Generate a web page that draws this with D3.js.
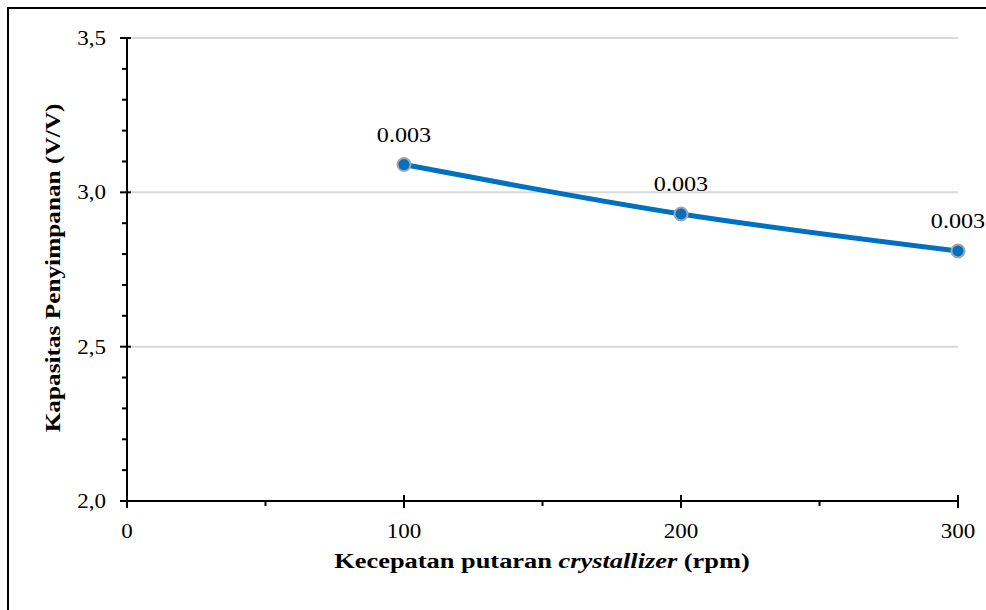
<!DOCTYPE html>
<html>
<head>
<meta charset="utf-8">
<script src="https://cdn.jsdelivr.net/npm/d3@7"></script>
<style>
  html, body { margin: 0; padding: 0; background: #fff; }
  svg { display: block; font-family: "Liberation Serif", "Times New Roman", serif; }
</style>
</head>
<body>
<svg id="chart" width="986" height="610"></svg>
<script>
// Rotation speed of the crystallizer (rpm) vs. storage capacity (V/V)
const speeds = [100, 200, 300];
const capacity = [3.09, 2.93, 2.81];
const pointLabels = ["0.003", "0.003", "0.003"];
const yTicks = [2.0, 2.5, 3.0, 3.5];
const xTicks = [0, 100, 200, 300];

const svg = d3.select("#chart");
const W = 986, H = 610;
const SX = 1.15; // horizontal stretch of the lettering

// outer frame (left and top edges visible)
svg.append("path")
  .attr("d", `M8,${H} L8,8 L${W},8`)
  .attr("fill", "none").attr("stroke", "#000").attr("stroke-width", 2);

const x = d3.scaleLinear().domain([0, 300]).range([127, 958]);
const y = d3.scaleLinear().domain([2.0, 3.5]).range([501, 38]);

// text helper with horizontal stretch around its anchor point
function stretched(sel, px, py) {
  return sel.attr("transform", `translate(${px},${py}) scale(${SX},1)`);
}

// horizontal gridlines
svg.append("g").selectAll("line")
  .data(yTicks.filter(v => v > 2.0))
  .join("line")
  .attr("x1", x(0) + 4).attr("x2", x(300))
  .attr("y1", d => y(d)).attr("y2", d => y(d))
  .attr("stroke", "#d9d9d9").attr("stroke-width", 2);

// y axis: minor ticks on the outside, major ticks crossing
const yMinor = d3.range(20, 36).map(v => v / 10).filter(v => !yTicks.some(t => Math.abs(t - v) < 1e-9));
const gy = svg.append("g");
gy.append("line").attr("x1", x(0)).attr("x2", x(0))
  .attr("y1", y(3.5)).attr("y2", y(2.0))
  .attr("stroke", "#000").attr("stroke-width", 2);
gy.selectAll("line.minor").data(yMinor).join("line").attr("class", "minor")
  .attr("x1", x(0) - 5).attr("x2", x(0))
  .attr("y1", d => y(d)).attr("y2", d => y(d))
  .attr("stroke", "#000").attr("stroke-width", 2);
gy.selectAll("line.major").data(yTicks).join("line").attr("class", "major")
  .attr("x1", x(0) - 7).attr("x2", x(0) + 4)
  .attr("y1", d => y(d)).attr("y2", d => y(d))
  .attr("stroke", "#000").attr("stroke-width", 2);
gy.selectAll("text").data(yTicks).join("text")
  .each(function(d) { stretched(d3.select(this), x(0) - 21, y(d)); })
  .attr("dy", "0.35em").attr("text-anchor", "end")
  .attr("font-size", 20)
  .text(d => d.toFixed(1).replace(".", ","));

// x axis
const xMinor = [50, 150, 250];
const gx = svg.append("g");
gx.append("line").attr("x1", x(0)).attr("x2", x(300))
  .attr("y1", y(2.0)).attr("y2", y(2.0))
  .attr("stroke", "#000").attr("stroke-width", 2);
gx.selectAll("line.minor").data(xMinor).join("line").attr("class", "minor")
  .attr("x1", d => x(d)).attr("x2", d => x(d))
  .attr("y1", y(2.0)).attr("y2", y(2.0) + 5)
  .attr("stroke", "#000").attr("stroke-width", 2);
gx.selectAll("line.major").data(xTicks).join("line").attr("class", "major")
  .attr("x1", d => x(d)).attr("x2", d => x(d))
  .attr("y1", y(2.0) - 6).attr("y2", y(2.0) + 7)
  .attr("stroke", "#000").attr("stroke-width", 2);
gx.selectAll("text").data(xTicks).join("text")
  .each(function(d) { stretched(d3.select(this), x(d), y(2.0) + 37); })
  .attr("text-anchor", "middle")
  .attr("font-size", 20)
  .text(d => d);

// data line
svg.append("path")
  .datum(speeds.map((s, i) => [s, capacity[i]]))
  .attr("fill", "none")
  .attr("stroke", "#0070C0").attr("stroke-width", 5)
  .attr("stroke-linejoin", "round")
  .attr("d", d3.line().x(d => x(d[0])).y(d => y(d[1])).curve(d3.curveMonotoneX));

// markers
svg.append("g").selectAll("circle")
  .data(speeds.map((s, i) => [s, capacity[i]]))
  .join("circle")
  .attr("cx", d => x(d[0])).attr("cy", d => y(d[1]))
  .attr("r", 6.5)
  .attr("fill", "#0070C0").attr("stroke", "#a6a6a6").attr("stroke-width", 2);

// data labels
svg.append("g").selectAll("text")
  .data(speeds.map((s, i) => [s, capacity[i], pointLabels[i]]))
  .join("text")
  .each(function(d) { stretched(d3.select(this), x(d[0]), y(d[1]) - 23); })
  .attr("text-anchor", "middle")
  .attr("font-size", 21)
  .text(d => d[2]);

// axis titles
const xt = svg.append("text")
  .attr("transform", `translate(542,568) scale(${SX + 0.05},1)`)
  .attr("text-anchor", "middle")
  .attr("font-size", 22).attr("font-weight", "bold");
xt.append("tspan").text("Kecepatan putaran ");
xt.append("tspan").attr("font-style", "italic").text("crystallizer");
xt.append("tspan").text(" (rpm)");

svg.append("text")
  .attr("transform", "translate(60,268) rotate(-90) scale(1.15,1)")
  .attr("text-anchor", "middle")
  .attr("font-size", 22).attr("font-weight", "bold")
  .text("Kapasitas Penyimpanan (V/V)");
</script>
</body>
</html>
